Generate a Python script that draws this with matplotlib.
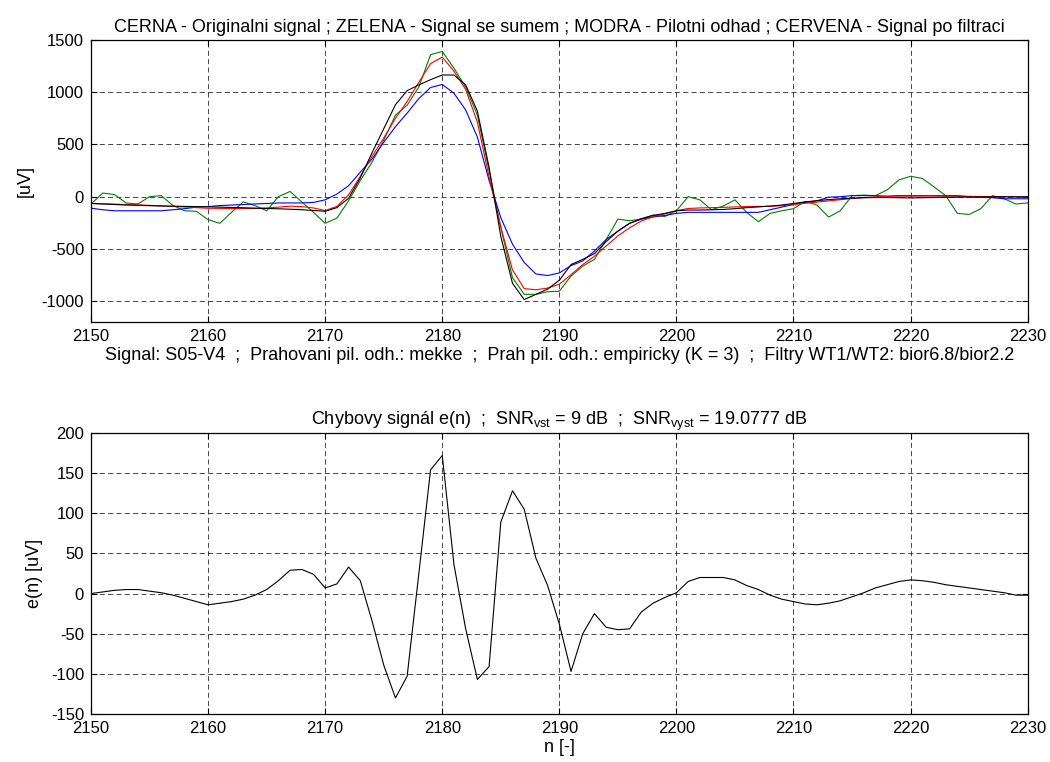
import matplotlib
matplotlib.use("Agg")
import matplotlib.pyplot as plt
import numpy as np

plt.rcParams['font.family'] = ['Liberation Sans', 'DejaVu Sans']
plt.rcParams['mathtext.fontset'] = 'custom'
plt.rcParams['mathtext.rm'] = 'Liberation Sans'
plt.rcParams['mathtext.it'] = 'Liberation Sans:italic'
plt.rcParams['font.size'] = 13
plt.rcParams['axes.titlesize'] = 13
plt.rcParams['xtick.labelsize'] = 12
plt.rcParams['ytick.labelsize'] = 12
plt.rcParams['axes.unicode_minus'] = False

n = np.arange(2150, 2231)

# original signal (black)
original = [-65, -70, -75, -80, -83, -86, -89, -91, -93, -95,
            -97, -100, -103, -106, -110, -113, -116, -120, -125, -132,
            -140, -105, -15, 180, 420, 650, 880, 1015, 1070, 1120,
            1165, 1165, 1070, 820, 280, -380, -830, -985, -935, -885,
            -800, -650, -600, -545, -430, -330, -255, -210, -180, -160,
            -135, -128, -128, -125, -122, -115, -105, -98, -90, -80,
            -65, -50, -38, -28, -20, -14, -10, -8, -8, -10,
            -12, -10, -8, -6, -5, -4, -3, -2, -1, -1,
            -1]

# signal with noise (green)
noisy = [-70, 35, 20, -60, -70, 0, 10, -85, -135, -140,
         -220, -255, -150, -50, -85, -135, 0, 50, -50, -150,
         -255, -205, -40, 155, 330, 540, 780, 876, 1050, 1360,
         1390, 1230, 1050, 780, 250, -295, -775, -935, -935, -910,
         -905, -760, -665, -600, -410, -215, -230, -215, -175, -190,
         -135, 0, -30, -125, -90, -30, -150, -240, -160, -135,
         -115, -45, -80, -195, -135, 10, 15, 10, 65, 160,
         195, 175, 95, 10, -160, -170, -115, 10, -20, -70,
         -60]

# pilot estimate (blue)
pilot = [-110, -125, -135, -135, -135, -135, -135, -125, -115, -100,
         -95, -85, -80, -75, -70, -65, -60, -60, -60, -55,
         -30, 25, 105, 235, 360, 520, 670, 800, 940, 1045,
         1075, 990, 830, 570, 155, -200, -455, -630, -740, -755,
         -730, -660, -615, -520, -410, -330, -255, -215, -195, -180,
         -160, -150, -150, -150, -150, -150, -150, -150, -125, -100,
         -75, -55, -40, -5, 0, 10, 10, 10, 5, 10,
         10, 10, 10, 10, 10, 0, -5, -10, -20, -20,
         -20]

# filtered signal (red)
filtered = [-65, -68, -71, -75, -78, -83, -88, -93, -99, -105,
            -111, -112, -113, -113, -112, -108, -100, -91, -95, -108,
            -133, -93, 18, 196, 386, 561, 750, 912, 1095, 1274,
            1337, 1201, 1026, 713, 189, -291, -702, -880, -891, -875,
            -838, -747, -650, -570, -472, -375, -299, -233, -192, -165,
            -134, -113, -108, -105, -102, -98, -95, -93, -92, -87,
            -75, -63, -52, -40, -29, -18, -9, -1, 3, 5,
            5, 6, 6, 5, 4, 3, 2, 1, 0, -3,
            -3]

# error signal e(n)
error = [0, 2, 4, 5, 5, 3, 1, -2, -6, -10,
         -14, -12, -10, -7, -2, 5, 16, 29, 30, 24,
         7, 12, 33, 16, -34, -89, -130, -103, 25, 154,
         172, 36, -44, -107, -91, 89, 128, 105, 44, 10,
         -38, -97, -50, -25, -42, -45, -44, -23, -12, -5,
         1, 15, 20, 20, 20, 17, 10, 5, -2, -7,
         -10, -13, -14, -12, -9, -4, 1, 7, 11, 15,
         17, 16, 14, 11, 9, 7, 5, 3, 1, -2,
         -2]

fig = plt.figure(figsize=(10.5, 7.62), dpi=100)
ax1 = fig.add_axes([0.0867, 0.5774, 0.892, 0.3701])
ax2 = fig.add_axes([0.0867, 0.0630, 0.892, 0.3688])

lw = 0.8
ax1.plot(n, noisy, color='#008000', lw=lw)
ax1.plot(n, pilot, color='#0000ff', lw=lw)
ax1.plot(n, filtered, color='#ff0000', lw=lw)
ax1.plot(n, original, color='k', lw=lw)
ax1.set_xlim(2150, 2230)
ax1.set_ylim(-1200, 1500)
ax1.set_yticks(np.arange(-1000, 1501, 500))
ax1.set_ylabel('[uV]', labelpad=6)
ax1.set_title('CERNA - Originalni signal ; ZELENA - Signal se sumem ; '
              'MODRA - Pilotni odhad ; CERVENA - Signal po filtraci', pad=6)
ax1.set_xlabel('Signal: S05-V4  ;  Prahovani pil. odh.: mekke  ;  '
               'Prah pil. odh.: empiricky (K = 3)  ;  Filtry WT1/WT2: bior6.8/bior2.2',
               labelpad=2)

ax2.plot(n, error, color='k', lw=lw)
ax2.set_xlim(2150, 2230)
ax2.set_ylim(-150, 200)
ax2.set_yticks(np.arange(-150, 201, 50))
ax2.set_ylabel('e(n) [uV]', labelpad=6)
ax2.set_xlabel('n [-]', labelpad=2)
ax2.set_title(r'Chybovy signál e(n)  ;  SNR$_{\mathrm{vst}}$ = 9 dB  ;  '
              r'SNR$_{\mathrm{vyst}}$ = 19.0777 dB', pad=6)

for ax in (ax1, ax2):
    ax.set_xticks(np.arange(2150, 2231, 10))
    ax.grid(True, linestyle=(0, (6, 4)), color='0.15', linewidth=0.6)
    ax.tick_params(direction='in', top=True, right=True, length=4, width=0.8, pad=5)
    for s in ax.spines.values():
        s.set_linewidth(0.9)

fig.savefig('out.png', dpi=100)
